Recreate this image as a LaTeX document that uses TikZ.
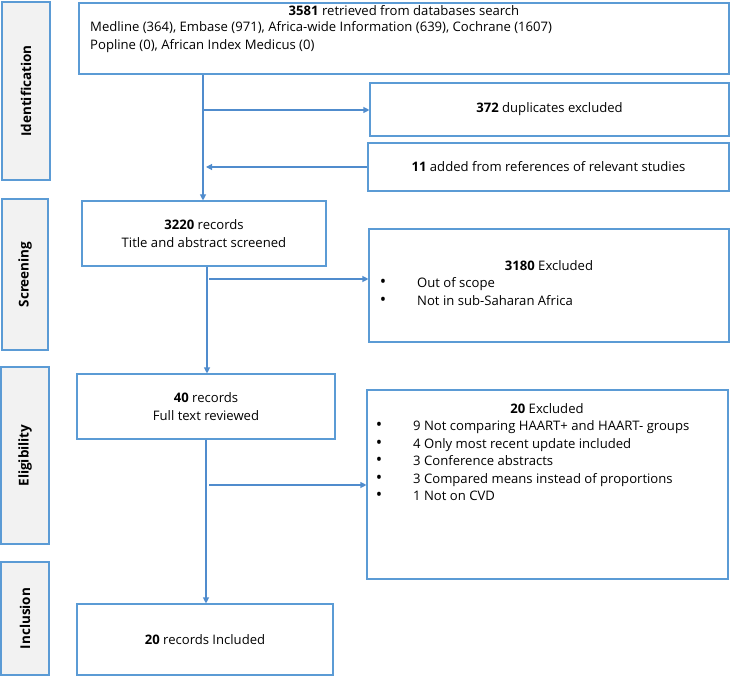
\documentclass[tikz,border=0pt]{standalone}
\usepackage{fontspec}
\setmainfont{Open Sans}
\usetikzlibrary{arrows.meta}
\definecolor{bord}{RGB}{91,155,213}
\definecolor{arr}{RGB}{80,140,205}
\definecolor{lab}{RGB}{242,242,242}
\newcommand\fs{\fontsize{13.1}{18}\selectfont}
\newcommand\fb{\fontsize{13.5}{18}\selectfont\bfseries}
\newcommand\blt{{\fontsize{17}{18}\selectfont\textbullet}}
\tikzset{
 box/.style={draw=bord, line width=1.1pt, fill=white, inner sep=0pt, align=center, font=\fs},
 side/.style={draw=bord, line width=1.1pt, fill=lab, inner sep=0pt},
 sidetext/.style={rotate=90, inner sep=0pt, font=\fb},
 txt/.style={inner sep=0pt, font=\fs, anchor=mid west},
 ctxt/.style={inner sep=0pt, font=\fs, anchor=mid},
 flow/.style={draw=arr, line width=1.1pt, -{Triangle[length=6pt,width=6pt]}},
}
\begin{document}
\begin{tikzpicture}[x=1pt,y=-1pt]
\useasboundingbox (0,0) rectangle (730,676);
% side labels
\node[side, minimum width=48pt, minimum height=178pt] (lid) at (26,91) {};
\node[sidetext] (tid) at (lid.center) {Identification};
\node[side, minimum width=46pt, minimum height=151pt] (lsc) at (25,274.5) {};
\node[sidetext] (tsc) at (lsc.center) {Screening};
\node[side, minimum width=48pt, minimum height=177pt] (lel) at (25,455.5) {};
\node[sidetext] (tel) at (lel.center) {Eligibility};
\node[side, minimum width=48pt, minimum height=113pt] (lin) at (25,618.5) {};
\node[sidetext] (tin) at (lin.center) {Inclusion};
% boxes
\node[box, minimum width=650pt, minimum height=71pt] (b1) at (404,38.5) {};
\node[ctxt] (t1) at (404,13) {\textbf{3581} retrieved from databases search};
\node[txt] (t2) at (90,29) {Medline (364), Embase (971), Africa-wide Information (639), Cochrane (1607)};
\node[txt] (t3) at (90,47) {Popline (0), African Index Medicus (0)};
\node[box, minimum width=359pt, minimum height=53pt] (b372) at (549.5,109.5) {\textbf{372} duplicates excluded};
\node[box, minimum width=361pt, minimum height=48pt] (b11) at (548.5,167) {\textbf{11} added from references of relevant studies};
\node[box, minimum width=244pt, minimum height=65pt] (b2) at (204,233.5) {\textbf{3220} records\\Title and abstract screened};
\node[box, minimum width=360pt, minimum height=113pt] (b3180) at (549,285.5) {};
\node[ctxt] (t3180) at (549,268) {\textbf{3180} Excluded};
\node[ctxt] (u1) at (383,285) {\blt};
\node[txt] (v1) at (417,285) {Out of scope};
\node[ctxt] (u2) at (383,303) {\blt};
\node[txt] (v2) at (417,303) {Not in sub-Saharan Africa};
\node[box, minimum width=258pt, minimum height=65pt] (b3) at (206,406.5) {\textbf{40} records\\Full text reviewed};
\node[box, minimum width=361pt, minimum height=189pt] (b20) at (547.5,484.5) {};
\node[ctxt] (t20) at (547,411) {\textbf{20} Excluded};
\node[ctxt] (w1) at (379,428) {\blt};
\node[txt] (x1) at (413,428) {9 Not comparing HAART+ and HAART- groups};
\node[ctxt] (w2) at (379,445.5) {\blt};
\node[txt] (x2) at (413,445.5) {4 Only most recent update included};
\node[ctxt] (w3) at (379,463) {\blt};
\node[txt] (x3) at (413,463) {3 Conference abstracts};
\node[ctxt] (w4) at (379,480.5) {\blt};
\node[txt] (x4) at (413,480.5) {3 Compared means instead of proportions};
\node[ctxt] (w5) at (379,498) {\blt};
\node[txt] (x5) at (413,498) {1 Not on CVD};
\node[box, minimum width=256pt, minimum height=71pt] (b4) at (205,639.5) {\textbf{20} records Included};
% connectors
\coordinate (s1) at (203,0);
\coordinate (s2) at (207,0);
\coordinate (s3) at (206,0);
\coordinate (j1) at (203,110);
\coordinate (j2) at (206,167);
\coordinate (j3) at (209,279);
\coordinate (j4) at (209,485);
\draw[flow] (b1.south -| s1) -- (b2.north -| s1);
\draw[flow] (j1) -- (j1 -| b372.west);
\draw[flow] (b11.west) -- (j2);
\draw[flow] (b2.south -| s2) -- (b3.north -| s2);
\draw[flow] (j3) -- (j3 -| b3180.west);
\draw[flow] (b3.south -| s3) -- (b4.north -| s3);
\draw[flow] (j4) -- (j4 -| b20.west);
\end{tikzpicture}
\end{document}
